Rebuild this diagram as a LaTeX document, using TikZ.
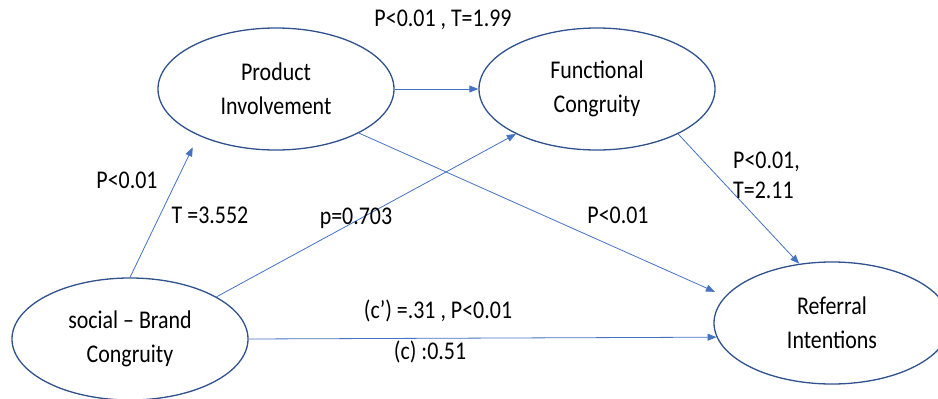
\documentclass[tikz,border=0pt]{standalone}
\usepackage{fontspec}
\setmainfont{Carlito}[FakeStretch=0.86]
\usetikzlibrary{shapes.geometric,arrows.meta}
\definecolor{ellc}{HTML}{2F528F}
\definecolor{arrc}{HTML}{4472C4}
\begin{document}
\begin{tikzpicture}[x=1pt,y=-1pt,
  latent/.style={ellipse,draw=ellc,line width=1.3pt,minimum width=236pt,minimum height=122pt,inner sep=0pt,align=center,font=\fontsize{25.5}{34}\selectfont},
  conn/.style={draw=arrc,line width=0.8pt,-{Triangle[length=9pt,width=7pt]}},
  lbl/.style={font=\fontsize{25.5}{30}\selectfont,inner sep=0pt}]
\useasboundingbox (0,0) rectangle (938,399);
\node[latent] (p) at (276,89) {Product\\Involvement};
\node[latent] (f) at (597,89) {Functional\\Congruity};
\node[latent] (s) at (130,339) {social -- Brand\\Congruity};
\node[latent] (r) at (832,323) {Referral\\Intentions};

\draw[conn,shorten >=13pt] (s.north) -- (p.211);
\draw[conn] (s.26) -- (f.209.5);
\draw[conn] (s.east) -- (r.187);
\draw[conn] (p.east) -- (f.west);
\draw[conn,shorten >=11pt] (p.332.7) -- (r.166.2);
\draw[conn] (f.331.5) -- (r.119.1);

\node[lbl] (l1) at (443,20) {P<0.01 , T=1.99};
\node[lbl] (l2) at (127,180) {P<0.01};
\node[lbl] (l3) at (210,215) {T =3.552};
\node[lbl] (l4) at (356,218) {p=0.703};
\node[lbl] (l5) at (618,215) {P<0.01};
\node[lbl,anchor=west,align=left] (l6) at (733,175) {P<0.01,\\T=2.11};
\node[lbl] (l7) at (438,311) {(c’) =.31 , P<0.01};
\node[lbl] (l8) at (430,352) {(c) :0.51};
\end{tikzpicture}
\end{document}
